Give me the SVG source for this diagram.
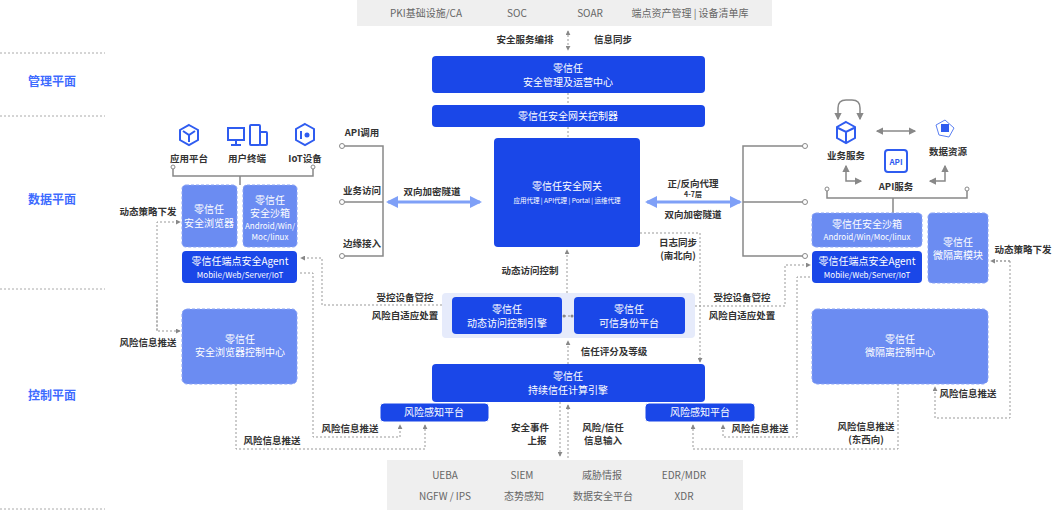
<svg xmlns="http://www.w3.org/2000/svg" width="1057" height="513" viewBox="0 0 1057 513">
<defs>
<style>
text{font-family:"Noto Sans CJK SC","Noto Sans",sans-serif;text-anchor:middle}
.w{fill:#fff;font-size:10px}
.ws{fill:#fff;font-size:8px}
.l{fill:#333;font-size:9.5px;font-weight:bold}
.g{fill:#666;font-size:10px}
.p{fill:#3d6bff;font-size:12px;font-weight:bold}
.db{fill:#1a47e8}
.lb{fill:#6b8cf2;stroke:#8aa3f5;stroke-dasharray:3 2}
.d{fill:none;stroke:#999;stroke-width:1;stroke-dasharray:2 2}
.s{fill:none;stroke:#888;stroke-width:1.5}
.sep{stroke:#aaa;stroke-dasharray:2 2}
.ic{fill:none;stroke:#2f5cf0;stroke-width:2}
</style>
<marker id="a" viewBox="0 0 6 6" refX="5" refY="3" markerWidth="5" markerHeight="5" orient="auto-start-reverse"><path d="M0,0L6,3L0,6z" fill="#888"/></marker>
<marker id="b" viewBox="0 0 6 6" refX="5" refY="3" markerWidth="4" markerHeight="4" orient="auto-start-reverse"><path d="M0,0L6,3L0,6z" fill="#7fa0f7"/></marker>
</defs>
<g id="planes">
<line class="sep" x1="0" y1="53" x2="105" y2="53"/><line class="sep" x1="0" y1="116" x2="105" y2="116"/>
<line class="sep" x1="0" y1="289" x2="105" y2="289"/><line class="sep" x1="0" y1="509" x2="105" y2="509"/>
<text class="p" x="52" y="86">管理平面</text><text class="p" x="52" y="204">数据平面</text><text class="p" x="52" y="400">控制平面</text>
</g>
<g id="top-bar"><rect x="357" y="0" width="415" height="26" fill="#efefef"/>
<text class="g" x="426" y="17">PKI基础设施/CA</text><text class="g" x="517" y="17">SOC</text><text class="g" x="590" y="17">SOAR</text><text class="g" x="690" y="17">端点资产管理 | 设备清单库</text></g>
<g id="bottom-bar"><rect x="387" y="460" width="356" height="50" fill="#efefef"/>
<text class="g" x="445" y="479">UEBA</text><text class="g" x="522" y="479">SIEM</text><text class="g" x="602" y="479">威胁情报</text><text class="g" x="684" y="479">EDR/MDR</text>
<text class="g" x="445" y="500">NGFW / IPS</text><text class="g" x="524" y="500">态势感知</text><text class="g" x="603" y="500">数据安全平台</text><text class="g" x="684" y="500">XDR</text></g>
<g id="connectors">
<line class="d" x1="568" y1="31" x2="568" y2="50" marker-start="url(#a)" marker-end="url(#a)"/>
<line class="d" x1="568" y1="93" x2="568" y2="105"/><line class="d" x1="568" y1="127" x2="568" y2="138"/>
<path class="s" d="M344,146H383V256H344M344,202H383"/>
<circle cx="342" cy="146" r="2.5" fill="#fff" stroke="#888"/><circle cx="342" cy="202" r="2.5" fill="#fff" stroke="#888"/><circle cx="342" cy="256" r="2.5" fill="#fff" stroke="#888"/>
<path class="s" d="M803,146H743V256H803M803,202H743"/>
<circle cx="805" cy="146" r="2.5" fill="#fff" stroke="#888"/><circle cx="805" cy="202" r="2.5" fill="#fff" stroke="#888"/><circle cx="805" cy="256" r="2.5" fill="#fff" stroke="#888"/>
<line x1="388" y1="202" x2="480" y2="202" stroke="#7fa0f7" stroke-width="3" marker-start="url(#b)" marker-end="url(#b)"/>
<line x1="647" y1="202" x2="740" y2="202" stroke="#7fa0f7" stroke-width="3" marker-start="url(#b)" marker-end="url(#b)"/>
<path class="s" d="M173,168V176H313V168M240,176V185" stroke-width="1"/>
<circle cx="173" cy="167" r="2" fill="#fff" stroke="#888"/><circle cx="313" cy="167" r="2" fill="#fff" stroke="#888"/>
<path class="s" d="M827,190V198H967V190M893,198V213" stroke-width="1"/>
<circle cx="827" cy="189" r="2" fill="#fff" stroke="#888"/><circle cx="967" cy="189" r="2" fill="#fff" stroke="#888"/>
<path class="d" d="M157,331V222H180" marker-end="url(#a)"/><path class="d" d="M157,300V331H180" marker-end="url(#a)"/>
<path class="d" d="M236,384V449H425V425" marker-end="url(#a)"/>
<path class="d" d="M300,273H313V437H400V425" marker-end="url(#a)"/>
<path class="d" d="M442,305H322V258H301" marker-end="url(#a)"/>
<path class="d" d="M567,293V250" marker-end="url(#a)"/>
<path class="d" d="M640,233H700V362" marker-end="url(#a)"/>
<path class="d" d="M568,364V341" marker-end="url(#a)"/>
<path class="d" d="M695,306H785V265H810" marker-end="url(#a)"/>
<path class="d" d="M560,402V456" marker-end="url(#a)"/><path class="d" d="M568,458V405" marker-end="url(#a)"/>
<path class="d" d="M1010,261H990M1010,261V418H935V387" marker-end="url(#a)"/>
<path class="d" d="M1010,261H991" marker-end="url(#a)"/>
<path class="d" d="M898,384V449H693V425" marker-end="url(#a)"/>
<path class="d" d="M810,277H797V437H723V425" marker-end="url(#a)"/>
<path class="s" d="M838,119V108Q838,100 846,100H852Q860,100 860,108V119" stroke-width="1.2" marker-start="url(#a)" marker-end="url(#a)"/>
<line class="s" x1="877" y1="131" x2="915" y2="131" stroke-width="1.2" marker-start="url(#a)" marker-end="url(#a)"/>
<path class="s" d="M846,166V181H861" stroke-width="1.2" marker-start="url(#a)" marker-end="url(#a)"/>
<path class="s" d="M945,166V181H930" stroke-width="1.2" marker-start="url(#a)" marker-end="url(#a)"/>
</g>
<g id="labels">
<text class="l" x="525" y="43">安全服务编排</text><text class="l" x="613" y="43">信息同步</text>
<text class="l" x="362" y="136">API调用</text><text class="l" x="362" y="194">业务访问</text><text class="l" x="362" y="247">边缘接入</text>
<text class="l" x="432" y="195">双向加密隧道</text>
<text class="l" x="693" y="187">正/反向代理</text><text class="l" x="693" y="197" style="font-size:7px">4-7层</text><text class="l" x="693" y="218">双向加密隧道</text>
<text class="l" x="148" y="215">动态策略下发</text><text class="l" x="148" y="346">风险信息推送</text>
<text class="l" x="272" y="444">风险信息推送</text><text class="l" x="350" y="432">风险信息推送</text>
<text class="l" x="405" y="301">受控设备管控</text><text class="l" x="405" y="319">风险自适应处置</text>
<text class="l" x="530" y="274">动态访问控制</text>
<text class="l" x="678" y="246">日志同步</text><text class="l" x="678" y="259">(南北向)</text>
<text class="l" x="614" y="355">信任评分及等级</text>
<text class="l" x="742" y="301">受控设备管控</text><text class="l" x="742" y="319">风险自适应处置</text>
<text class="l" x="530" y="431">安全事件</text><text class="l" x="537" y="444">上报</text>
<text class="l" x="603" y="431">风险/信任</text><text class="l" x="603" y="444">信息输入</text>
<text class="l" x="1023" y="253">动态策略下发</text><text class="l" x="968" y="397">风险信息推送</text>
<text class="l" x="866" y="430">风险信息推送</text><text class="l" x="866" y="443">(东西向)</text>
<text class="l" x="760" y="432">风险信息推送</text>
</g>
<g id="icons">
<path class="ic" d="M189,125L198,130V140L189,145L180,140V130Z M183,131L189,135L195,131M189,135V142"/>
<rect class="ic" x="228" y="128" width="16" height="12" stroke-width="1.8"/><path class="ic" d="M236,140V145M231,145H241" stroke-width="1.8"/>
<rect class="ic" x="250" y="125" width="10" height="20" rx="1" stroke-width="1.8"/><rect class="ic" x="260" y="132" width="7" height="13" rx="1" stroke-width="1.8"/>
<path class="ic" d="M305,124L314,129V140L305,145L296,140V129Z"/><circle cx="307" cy="135" r="2.5" fill="#2f5cf0"/><path class="ic" d="M301,131V139" stroke-width="1.5"/>
<text class="l" x="189" y="162">应用平台</text><text class="l" x="247" y="162">用户终端</text><text class="l" x="305" y="162">IoT设备</text>
<path class="ic" d="M846,122L855,127V138L846,143L837,138V127Z M838,128L846,132L854,128M846,132V142"/>
<text class="l" x="846" y="159">业务服务</text>
<path d="M945,120L954,128L949,137L939,135L936,125Z" fill="none" stroke="#5b80f2" stroke-width="1"/><rect x="941" y="124" width="8" height="8" fill="#2f5cf0"/>
<text class="l" x="948" y="155">数据资源</text>
<rect class="ic" x="885" y="150" width="22" height="22" rx="3"/><text x="896" y="165" style="fill:#2f5cf0;font-size:8px;font-weight:bold">API</text>
<text class="l" x="896" y="190">API服务</text>
</g>
<g id="mgmt-center"><rect class="db" x="432" y="56" width="273" height="37" rx="4"/><text class="w" x="568" y="72">零信任</text><text class="w" x="568" y="86">安全管理及运营中心</text></g>
<g id="gw-controller"><rect class="db" x="432" y="105" width="273" height="22" rx="4"/><text class="w" x="568" y="120">零信任安全网关控制器</text></g>
<g id="gateway"><rect class="db" x="494" y="138" width="146" height="109" rx="4"/><text class="w" x="567" y="190">零信任安全网关</text><text class="ws" x="567" y="203" style="font-size:6.5px">应用代理 | API代理 | Portal | 运维代理</text></g>
<g id="browser"><rect class="lb" x="182" y="185" width="55" height="62" rx="4"/><text class="w" x="209" y="213">零信任</text><text class="w" x="209" y="227">安全浏览器</text></g>
<g id="sandbox-l"><rect class="lb" x="243" y="185" width="54" height="62" rx="4"/><text class="w" x="270" y="204">零信任</text><text class="w" x="270" y="217">安全沙箱</text><text class="ws" x="270" y="229">Android/Win/</text><text class="ws" x="270" y="240">Moc/linux</text></g>
<g id="agent-l"><rect class="db" x="182" y="251" width="115" height="32" rx="4"/><text class="w" x="240" y="265">零信任端点安全Agent</text><text class="ws" x="240" y="278">Mobile/Web/Server/IoT</text></g>
<g id="browser-cc"><rect class="lb" x="182" y="309" width="115" height="75" rx="5"/><text class="w" x="240" y="343">零信任</text><text class="w" x="240" y="356">安全浏览器控制中心</text></g>
<g id="ctrl-group"><rect x="442" y="293" width="253" height="45" rx="4" fill="#e6ebfb"/>
<g id="dac-engine"><rect class="db" x="452" y="297" width="110" height="37" rx="4"/><text class="w" x="507" y="313">零信任</text><text class="w" x="507" y="327">动态访问控制引擎</text></g>
<g id="identity"><rect class="db" x="574" y="297" width="111" height="37" rx="4"/><text class="w" x="629" y="313">零信任</text><text class="w" x="629" y="327">可信身份平台</text></g>
<path d="M564,316H573" stroke="#888" stroke-width="1" stroke-dasharray="2 2"/><circle cx="564" cy="316" r="1.5" fill="#888"/><circle cx="572" cy="316" r="1.5" fill="#888"/></g>
<g id="trust-engine"><rect class="db" x="432" y="364" width="273" height="38" rx="4"/><text class="w" x="568" y="380">零信任</text><text class="w" x="568" y="394">持续信任计算引擎</text></g>
<g id="risk-l"><rect class="db" x="380" y="403" width="109" height="19" rx="4" stroke="#fff"/><text class="w" x="434" y="416">风险感知平台</text></g>
<g id="risk-r"><rect class="db" x="645" y="403" width="110" height="19" rx="4" stroke="#fff"/><text class="w" x="700" y="416">风险感知平台</text></g>
<g id="sandbox-r"><rect class="lb" x="812" y="213" width="110" height="34" rx="4"/><text class="w" x="867" y="228">零信任安全沙箱</text><text class="ws" x="867" y="240">Android/Win/Moc/linux</text></g>
<g id="agent-r"><rect class="db" x="812" y="251" width="110" height="32" rx="4"/><text class="w" x="867" y="265">零信任端点安全Agent</text><text class="ws" x="867" y="278">Mobile/Web/Server/IoT</text></g>
<g id="micro-mod"><rect class="lb" x="928" y="213" width="60" height="70" rx="4"/><text class="w" x="958" y="246">零信任</text><text class="w" x="958" y="259">微隔离模块</text></g>
<g id="micro-cc"><rect class="lb" x="812" y="309" width="176" height="75" rx="5"/><text class="w" x="900" y="343">零信任</text><text class="w" x="900" y="356">微隔离控制中心</text></g>
</svg>
